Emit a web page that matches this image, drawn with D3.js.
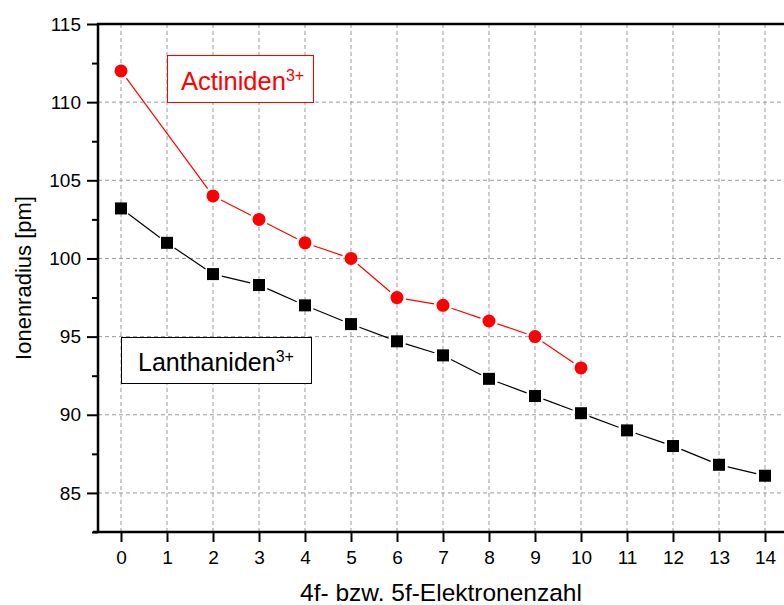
<!DOCTYPE html>
<html>
<head>
<meta charset="utf-8">
<script src="https://cdn.jsdelivr.net/npm/d3@7"></script>
<style>
  html, body { margin: 0; padding: 0; background: #fff; }
  svg { display: block; font-family: Arial, "Liberation Sans", sans-serif; }
</style>
</head>
<body>
<svg id="chart" width="784" height="605"></svg>
<script>
// ---- data ----
const lanthX = [0,1,2,3,4,5,6,7,8,9,10,11,12,13,14];
const lanthY = [103.2,101.0,99.0,98.3,97.0,95.8,94.7,93.8,92.3,91.2,90.1,89.0,88.0,86.8,86.1];
const actX = [0,2,3,4,5,6,7,8,9,10];
const actY = [112.0,104.0,102.5,101.0,100.0,97.5,97.0,96.0,95.0,93.0];
const xTicks = [0,1,2,3,4,5,6,7,8,9,10,11,12,13,14];
const yTicks = [85,90,95,100,105,110,115];
const yMinorTicks = [82.5,87.5,92.5,97.5,102.5,107.5,112.5];
const xTitle = "4f- bzw. 5f-Elektronenzahl";
const yTitle = "Ionenradius [pm]";

const svg = d3.select("#chart");
const L = 98, R = 788, T = 24, B = 532;
const x = d3.scaleLinear().domain([-0.5, 14.5]).range([L, R]);
const y = d3.scaleLinear().domain([82.5, 115]).range([B, T]);

// grid
const grid = svg.append("g").attr("stroke", "#9a9a9a").attr("stroke-width", 1).attr("stroke-dasharray", "4,3");
xTicks.forEach(t => grid.append("line").attr("x1", x(t)).attr("x2", x(t)).attr("y1", B).attr("y2", T));
yTicks.filter(t => t < 115).forEach(t => grid.append("line").attr("x1", L).attr("x2", R).attr("y1", y(t)).attr("y2", y(t)));

// series lines with gaps near markers
function drawSeries(xs, ys, color, gap) {
  const g = svg.append("g");
  for (let i = 0; i < xs.length - 1; i++) {
    const x1 = x(xs[i]), y1 = y(ys[i]), x2 = x(xs[i+1]), y2 = y(ys[i+1]);
    const dx = x2 - x1, dy = y2 - y1, len = Math.hypot(dx, dy);
    const ux = dx / len, uy = dy / len;
    g.append("line")
      .attr("x1", x1 + ux * gap).attr("y1", y1 + uy * gap)
      .attr("x2", x2 - ux * gap).attr("y2", y2 - uy * gap)
      .attr("stroke", color).attr("stroke-width", 1.2);
  }
  return g;
}
drawSeries(lanthX, lanthY, "#000", 9);
drawSeries(actX, actY, "#ff0000", 9);

svg.append("g").selectAll("rect").data(lanthX.map((d, i) => [d, lanthY[i]])).join("rect")
  .attr("x", d => x(d[0]) - 6).attr("y", d => y(d[1]) - 6)
  .attr("width", 12).attr("height", 12).attr("fill", "#000");
svg.append("g").selectAll("circle").data(actX.map((d, i) => [d, actY[i]])).join("circle")
  .attr("cx", d => x(d[0])).attr("cy", d => y(d[1])).attr("r", 6.5).attr("fill", "#ff0000");

// axes
const yAxis = svg.append("g").attr("transform", `translate(${L},0)`)
  .call(d3.axisLeft(y).tickValues(yTicks).tickSize(11).tickPadding(6).tickFormat(d3.format("d")));
const yMinor = svg.append("g").attr("transform", `translate(${L},0)`)
  .call(d3.axisLeft(y).tickValues(yMinorTicks).tickSize(6).tickFormat(""));
const xAxis = svg.append("g").attr("transform", `translate(0,${B})`)
  .call(d3.axisBottom(x).tickValues(xTicks).tickSize(10).tickPadding(9).tickFormat(d3.format("d")));
[yAxis, yMinor, xAxis].forEach(a => {
  a.select(".domain").remove();
  a.selectAll(".tick line").attr("stroke", "#000").attr("stroke-width", 2);
  a.selectAll(".tick text").attr("font-size", 19).attr("fill", "#000")
    .attr("font-family", "Arial, 'Liberation Sans', sans-serif");
});
// axis lines
svg.append("line").attr("x1", L).attr("x2", L).attr("y1", T - 1).attr("y2", B + 1).attr("stroke", "#000").attr("stroke-width", 2.5);
svg.append("line").attr("x1", L - 5).attr("x2", R).attr("y1", B).attr("y2", B).attr("stroke", "#000").attr("stroke-width", 2.5);
svg.append("line").attr("x1", L - 1).attr("x2", R).attr("y1", T).attr("y2", T).attr("stroke", "#000").attr("stroke-width", 2.5);

// titles
svg.append("text").attr("x", (L + R) / 2 - 2).attr("y", 601).attr("text-anchor", "middle")
  .attr("font-size", 24.5).attr("fill", "#000").text(xTitle);
svg.append("text").attr("transform", `translate(31,${(T + B) / 2}) rotate(-90)`).attr("text-anchor", "middle")
  .attr("font-size", 22).attr("fill", "#000").text(yTitle);

// legend boxes
function legendBox(bx, by, bw, bh, label, color, baseline, tx, fs) {
  svg.append("rect").attr("x", bx).attr("y", by).attr("width", bw).attr("height", bh)
    .attr("fill", "#fff").attr("stroke", color).attr("stroke-width", 1);
  const t = svg.append("text").attr("x", tx).attr("y", baseline).attr("font-size", fs).attr("fill", color);
  t.append("tspan").text(label);
  t.append("tspan").attr("dy", -9).attr("font-size", 16).text("3+");
}
legendBox(167.5, 55.5, 146, 47, "Actiniden", "#ff0000", 90, 181, 25.5);
legendBox(121.5, 337.5, 190, 46, "Lanthaniden", "#000", 371, 138, 25);
</script>
</body>
</html>
